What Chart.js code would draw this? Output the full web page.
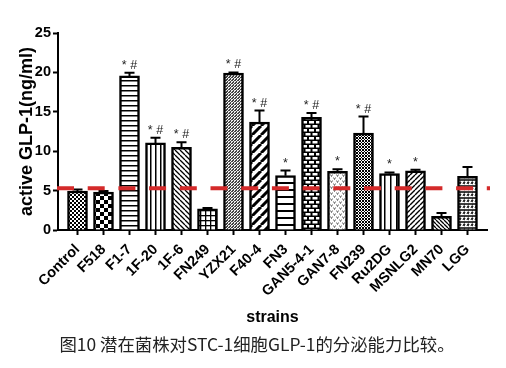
<!DOCTYPE html>
<html>
<head>
<meta charset="utf-8">
<script src="https://cdn.jsdelivr.net/npm/chart.js@4.4.1/dist/chart.umd.min.js"></script>
<style>
    html, body { margin: 0; padding: 0; background: #fff; }
    #wrap { position: relative; width: 506px; height: 368px; }
    #caption {
        position: absolute; left: 4px; top: 332px; width: 506px;
        text-align: center; line-height: 24px;
        font-family: "Noto Sans CJK SC", sans-serif; font-size: 17.4px; color: #222;
    }
</style>
</head>
<body>
<div id="wrap">
    <canvas id="glpChart" width="506" height="368"></canvas>
    <div id="caption">图10 潜在菌株对STC-1细胞GLP-1的分泌能力比较。</div>
</div>
<script>
const STRAINS = ['Control', 'F518', 'F1-7', '1F-20', '1F-6', 'FN249', 'YZX21', 'F40-4',
    'FN3', 'GAN5-4-1', 'GAN7-8', 'FN239', 'Ru2DG', 'MSNLG2', 'MN70', 'LGG'];
const GLP1_MEAN = [4.95, 4.8, 19.55, 11.05, 10.5, 2.7, 19.9, 13.7,
    6.9, 14.3, 7.45, 12.3, 7.15, 7.5, 1.75, 6.8];
const GLP1_ERR = [0.2, 0.15, 0.4, 0.65, 0.65, 0.1, 0.1, 1.45,
    0.65, 0.55, 0.25, 2.1, 0.15, 0.15, 0.4, 1.2];
const SIG_MARKS = ['', '', '* #', '* #', '* #', '', '* #', '* #',
    '*', '* #', '*', '* #', '*', '*', '', ''];
const CONTROL_LEVEL = 5.3;
const Y_TICKS = [0, 5, 10, 15, 20, 25];

const canvas = document.getElementById('glpChart');
const ctx = canvas.getContext('2d');
const FONT = "'Liberation Sans', Arial, sans-serif";

// pattern tiles, black on white
function tile(w, h, draw, bg) {
    const c = document.createElement('canvas');
    c.width = w; c.height = h;
    const g = c.getContext('2d');
    g.fillStyle = bg || '#fff';
    g.fillRect(0, 0, w, h);
    g.fillStyle = '#000';
    g.strokeStyle = '#000';
    draw(g, w, h);
    return ctx.createPattern(c, 'repeat');
}
const checker = n => tile(2 * n, 2 * n, g => { g.fillRect(0, 0, n, n); g.fillRect(n, n, n, n); });
const hLines = (step, lw) => tile(4, step, g => g.fillRect(0, 0, 4, lw));
const vLines = (step, lw) => tile(step, 4, g => g.fillRect(0, 0, lw, 4));
const grid = (step, lw) => tile(step, step, g => { g.fillRect(0, 0, step, lw); g.fillRect(0, 0, lw, step); });
function diag(step, lw, dir) {
    return tile(step, step, g => {
        g.lineWidth = lw;
        g.beginPath();
        for (const k of [-1, 0, 1]) {
            if (dir === '/') { g.moveTo(k * step, step); g.lineTo(k * step + step, 0); }
            else { g.moveTo(k * step, 0); g.lineTo(k * step + step, step); }
        }
        g.stroke();
    });
}
const cross = (step, lw) => tile(step, step, g => {
    g.lineWidth = lw;
    g.beginPath();
    for (const k of [-1, 0, 1]) {
        g.moveTo(k * step, step); g.lineTo(k * step + step, 0);
        g.moveTo(k * step, 0); g.lineTo(k * step + step, step);
    }
    g.stroke();
});
const brick = tile(7, 8, g => {
    g.fillStyle = '#fff';
    g.fillRect(1, 1, 5, 2.5);
    g.fillRect(4.5, 5, 5, 2.5);
    g.fillRect(-2.5, 5, 5, 2.5);
}, '#000');
const vMarks = tile(6, 6, g => {
    g.strokeStyle = '#444'; g.lineWidth = 0.8;
    g.beginPath();
    g.moveTo(0.5, 0.5); g.lineTo(1.5, 2.5); g.lineTo(2.5, 0.5);
    g.moveTo(3.5, 3.5); g.lineTo(4.5, 5.5); g.lineTo(5.5, 3.5);
    g.stroke();
});
const zigzag = tile(8, 6, g => {
    g.strokeStyle = '#fff'; g.lineWidth = 1.4;
    g.beginPath();
    g.moveTo(0.5, 1.5); g.lineTo(3, 1.5); g.lineTo(1, 4.5); g.lineTo(4, 4.5);
    g.moveTo(4.5, 1.5); g.lineTo(7, 1.5); g.lineTo(5, 4.5); g.lineTo(8, 4.5);
    g.stroke();
}, '#000');

const BAR_FILLS = [
    checker(2), checker(4), hLines(5, 1.5), vLines(5, 1.5),
    diag(5, 1.3, '\\'), grid(5, 1.3), diag(3.5, 1.1, '/'), diag(9, 3, '/'),
    hLines(7, 2), brick, vMarks, cross(3, 1),
    vLines(6, 1.5), diag(5, 1.4, '/'), diag(4, 1.3, '\\'), zigzag
];

const errorBarPlugin = {
    id: 'errorBars',
    afterDatasetsDraw(chart) {
        const c = chart.ctx;
        const xs = chart.scales.x;
        const ys = chart.scales.y;
        c.save();
        c.strokeStyle = '#000';
        c.lineWidth = 2;
        c.fillStyle = '#222';
        c.font = '12.5px ' + FONT;
        c.textAlign = 'center';
        c.textBaseline = 'alphabetic';
        GLP1_MEAN.forEach((m, i) => {
            const x = xs.getPixelForValue(i);
            const yTop = ys.getPixelForValue(m);
            const yErr = ys.getPixelForValue(m + GLP1_ERR[i]);
            c.beginPath();
            c.moveTo(x, yTop);
            c.lineTo(x, yErr);
            c.moveTo(x - 5, yErr);
            c.lineTo(x + 5, yErr);
            c.stroke();
            if (SIG_MARKS[i]) c.fillText(SIG_MARKS[i], x, yErr - 4);
        });

        // dashed reference line at control level
        const yRef = ys.getPixelForValue(CONTROL_LEVEL);
        c.strokeStyle = '#d42a2a';
        c.lineWidth = 4;
        c.setLineDash([17, 13.7]);
        c.beginPath();
        c.moveTo(chart.chartArea.left - 1, yRef);
        c.lineTo(chart.chartArea.right + 3, yRef);
        c.stroke();
        c.restore();
    }
};

new Chart(canvas, {
    type: 'bar',
    data: {
        datasets: [{
            data: GLP1_MEAN.map((v, i) => ({ x: i, y: v })),
            backgroundColor: BAR_FILLS,
            borderColor: '#000',
            borderWidth: 2.5,
            borderSkipped: 'start',
            barThickness: 20
        }]
    },
    options: {
        responsive: false,
        animation: false,
        layout: { padding: { top: 33, right: 19, left: 0, bottom: 37 } },
        plugins: { legend: { display: false }, tooltip: { enabled: false } },
        scales: {
            x: {
                type: 'linear',
                min: -0.75,
                max: 15.75,
                offset: false,
                z: 1,
                afterFit: s => { s.height = 101; s.paddingLeft = 0; s.paddingRight = 0; },
                border: { display: true, color: '#000', width: 2 },
                grid: { offset: false, drawOnChartArea: false, drawTicks: true, tickLength: 5, tickWidth: 2, color: '#000' },
                ticks: {
                    stepSize: 1,
                    includeBounds: false,
                    autoSkip: false,
                    minRotation: 45,
                    maxRotation: 45,
                    padding: 6,
                    color: '#000',
                    font: { family: FONT, size: 14.5, weight: 'bold' },
                    callback: v => (Number.isInteger(v) && STRAINS[v] !== undefined) ? STRAINS[v] : null
                },
                title: {
                    display: true,
                    text: 'strains',
                    color: '#000',
                    font: { family: FONT, size: 16, weight: 'bold' },
                    padding: { top: 0, bottom: 4 }
                }
            },
            y: {
                min: Y_TICKS[0],
                max: Y_TICKS[Y_TICKS.length - 1],
                z: 1,
                afterFit: s => { s.width = 58; },
                border: { display: true, color: '#000', width: 2 },
                grid: { drawOnChartArea: false, drawTicks: true, tickLength: 5, tickWidth: 2, color: '#000' },
                ticks: {
                    stepSize: Y_TICKS[1] - Y_TICKS[0],
                    padding: 2,
                    color: '#000',
                    font: { family: FONT, size: 14.5, weight: 'bold' }
                },
                title: {
                    display: true,
                    text: 'active GLP-1(ng/ml)',
                    color: '#000',
                    font: { family: FONT, size: 18, weight: 'bold' },
                    padding: { top: 16, bottom: 0 }
                }
            }
        }
    },
    plugins: [errorBarPlugin]
});
</script>
</body>
</html>
